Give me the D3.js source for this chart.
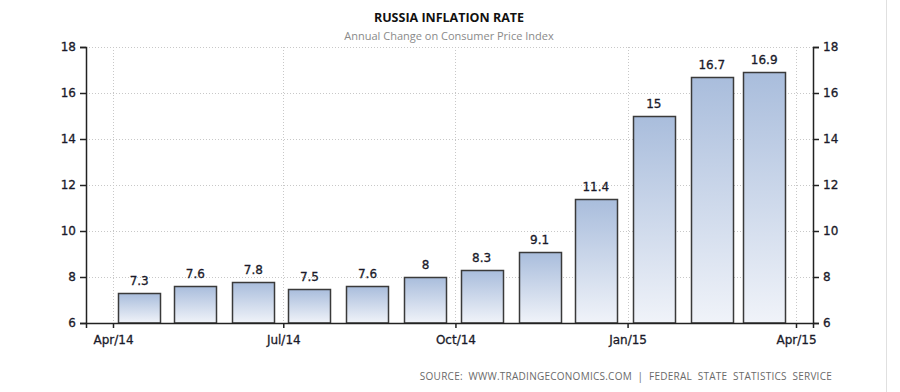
<!DOCTYPE html>
<html>
<head>
<meta charset="utf-8">
<script src="https://cdn.jsdelivr.net/npm/d3@7"></script>
<style>
  html, body { margin: 0; padding: 0; background: #fff; }
  svg { display: block; }
</style>
</head>
<body>
<svg id="chart" width="900" height="392"></svg>
<script>
// ---- data ----
const months = ["2014-04-15","2014-05-15","2014-06-15","2014-07-15","2014-08-15","2014-09-15",
                "2014-10-15","2014-11-15","2014-12-15","2015-01-15","2015-02-15","2015-03-15"];
const values = [7.3, 7.6, 7.8, 7.5, 7.6, 8, 8.3, 9.1, 11.4, 15, 16.7, 16.9];
const labels = ["7.3","7.6","7.8","7.5","7.6","8","8.3","9.1","11.4","15","16.7","16.9"];
const xTickDates = ["2014-04-01","2014-07-01","2014-10-01","2015-01-01","2015-04-01"];
const xTickLabels = ["Apr/14","Jul/14","Oct/14","Jan/15","Apr/15"];
const yTicks = [6, 8, 10, 12, 14, 16, 18];
const title = "RUSSIA INFLATION RATE";
const subtitle = "Annual Change on Consumer Price Index";
const source = "SOURCE:  WWW.TRADINGECONOMICS.COM  |  FEDERAL  STATE  STATISTICS  SERVICE";

(function () {
// ---- layout ----
const svg = d3.select("#chart");
const pLeft = 86, pRight = 813, pTop = 47, pBottom = 323;
const parse = d3.utcParse("%Y-%m-%d");

const xRef = d3.scaleUtc().domain([parse("2014-04-01"), parse("2015-04-01")]).range([113, 796]);
const x = d3.scaleUtc().domain([xRef.invert(pLeft), xRef.invert(pRight)]).range([pLeft, pRight]);
const y = d3.scaleLinear().domain([6, 18]).range([pBottom, pTop]);

const fontTick = "'DejaVu Sans', Verdana, sans-serif";

// gradient
const defs = svg.append("defs");
const grad = defs.append("linearGradient").attr("id", "barGrad")
  .attr("x1", 0).attr("y1", 0).attr("x2", 0).attr("y2", 1);
grad.append("stop").attr("offset", "0%").attr("stop-color", "#a9bddc");
grad.append("stop").attr("offset", "100%").attr("stop-color", "#f0f3f9");

// right border
svg.append("line").attr("x1", 886.5).attr("x2", 886.5).attr("y1", 0).attr("y2", 392)
  .attr("stroke", "#e0e0e0").attr("stroke-width", 1);

// gridlines
const grid = svg.append("g");
grid.selectAll("line.h").data(yTicks.filter(d => d !== 6)).join("line")
  .attr("x1", pLeft).attr("x2", pRight)
  .attr("y1", d => Math.round(y(d)) + 0.5).attr("y2", d => Math.round(y(d)) + 0.5)
  .attr("stroke", "#c8c8c8").attr("stroke-dasharray", "1,2");
grid.selectAll("line.v").data(xTickDates).join("line")
  .attr("x1", d => Math.round(x(parse(d))) + 0.5).attr("x2", d => Math.round(x(parse(d))) + 0.5)
  .attr("y1", pTop).attr("y2", pBottom)
  .attr("stroke", "#c8c8c8").attr("stroke-dasharray", "1,2");

// bars
const barW = 42;
const data = months.map((m, i) => ({ date: parse(m), value: values[i], label: labels[i] }));
svg.append("g").selectAll("rect").data(data).join("rect")
  .attr("x", d => Math.round(x(d.date) - barW / 2) + 0.5)
  .attr("y", d => Math.round(y(d.value)) + 0.5)
  .attr("width", barW)
  .attr("height", d => y(6) - Math.round(y(d.value)) - 0.5)
  .attr("fill", "url(#barGrad)")
  .attr("stroke", "#3a3a3a").attr("stroke-width", 1.5);

// value labels
svg.append("g").selectAll("text").data(data).join("text")
  .attr("x", d => x(d.date))
  .attr("y", d => y(d.value) - 8)
  .attr("text-anchor", "middle")
  .attr("font-family", fontTick).attr("font-size", 12)
  .attr("fill", "#1a1a2a").attr("stroke", "#1a1a2a").attr("stroke-width", 0.3)
  .text(d => d.label);

// axes
const axisStyle = g => {
  g.selectAll("path.domain").attr("stroke", "#222").attr("stroke-width", 1.5);
  g.selectAll(".tick line").attr("stroke", "#222").attr("stroke-width", 1.5);
  g.selectAll(".tick text").attr("font-family", fontTick).attr("font-size", 12)
    .attr("fill", "#1a1a2a").attr("stroke", "#1a1a2a").attr("stroke-width", 0.3);
};

svg.append("g").attr("transform", `translate(${pLeft},0)`)
  .call(d3.axisLeft(y).tickValues(yTicks).tickFormat(d3.format("d")).tickSizeOuter(0).tickSize(6).tickPadding(4))
  .call(axisStyle);

svg.append("g").attr("transform", `translate(${pRight},0)`)
  .call(d3.axisRight(y).tickValues(yTicks).tickFormat(d3.format("d")).tickSizeOuter(0).tickSize(6).tickPadding(4))
  .call(axisStyle);

svg.append("g").attr("transform", `translate(0,${pBottom})`)
  .call(d3.axisBottom(x).tickValues(xTickDates.map(parse))
        .tickFormat((d, i) => xTickLabels[i]).tickSizeOuter(0).tickSize(5).tickPadding(7))
  .call(axisStyle);

// titles
svg.append("text").attr("x", 449).attr("y", 22).attr("text-anchor", "middle")
  .attr("font-family", "'Open Sans', sans-serif").attr("font-weight", "bold").attr("font-size", 12.5)
  .attr("fill", "#111").text(title);
svg.append("text").attr("x", 449).attr("y", 40).attr("text-anchor", "middle")
  .attr("font-family", "'Open Sans', sans-serif").attr("font-size", 11)
  .attr("fill", "#8a8a8a").text(subtitle);
svg.append("text").attr("x", 832).attr("y", 380).attr("text-anchor", "end")
  .attr("font-family", "'Open Sans', sans-serif").attr("font-size", 10)
  .attr("letter-spacing", 0.25)
  .attr("fill", "#6a6a6a").style("white-space", "pre").text(source);
})();
</script>
</body>
</html>
